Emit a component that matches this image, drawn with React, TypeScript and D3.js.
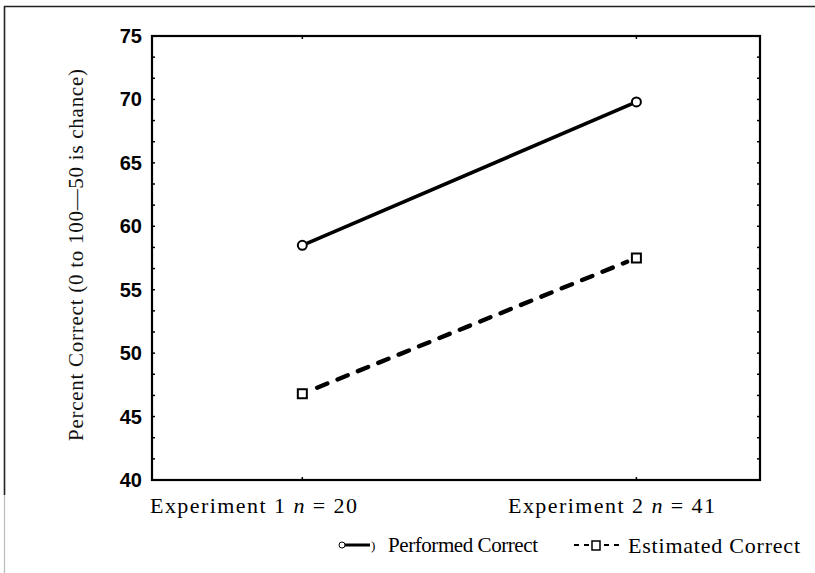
import React from "react";
import * as d3 from "d3";

const categories = ["Experiment 1", "Experiment 2"];
const categoryN = ["20", "41"];
const performed = [58.5, 69.8];
const estimated = [46.8, 57.5];
const yTicks = [40, 45, 50, 55, 60, 65, 70, 75];
const seriesNames = ["Performed Correct", "Estimated Correct"];
const yTitle = "Percent Correct (0 to 100\u201450 is chance)";

const W = 815;
const H = 573;
const M = { left: 152, right: 760, top: 36, bottom: 480 };

export default function App() {
  const x = d3.scaleLinear().domain([-0.45, 1.37]).range([M.left, M.right]);
  const y = d3.scaleLinear().domain([40, 75]).range([M.bottom, M.top]);

  const minor = d3.range(0, 22).map((i) => 40 + (i * 5) / 3);
  const serif = "'Liberation Serif', 'Times New Roman', serif";
  const sans = "'Liberation Sans Narrow', 'Liberation Sans', Arial, sans-serif";

  // segment between the two points, shortened so it doesn't overlap markers
  const seg = (vals: number[], pad0: number, pad1: number) => {
    const x0 = x(0), y0 = y(vals[0]), x1 = x(1), y1 = y(vals[1]);
    const len = Math.hypot(x1 - x0, y1 - y0);
    const ux = (x1 - x0) / len, uy = (y1 - y0) / len;
    return `M${x0 + ux * pad0},${y0 + uy * pad0}L${x1 - ux * pad1},${y1 - uy * pad1}`;
  };

  return (
    <svg
      width={W}
      height={H}
      style={{ position: "absolute", left: 0, top: 0, background: "#fff" }}
    >
      {/* outer frame */}
      <line x1={4} x2={W} y1={6.5} y2={6.5} stroke="#222" strokeWidth={1.6} />
      <line x1={4.5} x2={4.5} y1={6} y2={495} stroke="#222" strokeWidth={1.6} />
      <line x1={4.5} x2={4.5} y1={495} y2={H} stroke="#bbb" strokeWidth={1.2} />

      {/* plot box */}
      <rect
        x={M.left}
        y={M.top}
        width={M.right - M.left}
        height={M.bottom - M.top}
        fill="none"
        stroke="#000"
        strokeWidth={2.2}
      />
      {minor.map((v, i) => (
        <g key={i}>
          <line x1={M.left} x2={M.left + 3} y1={y(v)} y2={y(v)} stroke="#000" strokeWidth={1.5} />
          <line x1={M.right} x2={M.right - 3} y1={y(v)} y2={y(v)} stroke="#000" strokeWidth={1.5} />
        </g>
      ))}
      {categories.map((c, i) => (
        <g key={c}>
          <line x1={x(i)} x2={x(i)} y1={M.bottom} y2={M.bottom - 3} stroke="#000" strokeWidth={1.5} />
          <line x1={x(i)} x2={x(i)} y1={M.top} y2={M.top + 3} stroke="#000" strokeWidth={1.5} />
        </g>
      ))}

      {/* y tick labels */}
      {yTicks.map((t) => (
        <text
          key={t}
          x={142}
          y={y(t)}
          textAnchor="end"
          dominantBaseline="central"
          fontFamily={sans}
          fontWeight="bold"
          fontSize={20}
          fill="#000"
        >
          {t}
        </text>
      ))}

      {/* y title */}
      <text
        transform={`translate(76,${255}) rotate(-90)`}
        textAnchor="middle"
        dominantBaseline="central"
        fontFamily={serif}
        fontSize={21}
        textLength={372}
        lengthAdjust="spacing"
        fill="#111"
      >
        {yTitle}
      </text>

      {/* x labels */}
      {categories.map((c, i) => (
        <text
          key={c}
          x={i === 0 ? 150 : 508}
          y={505}
          dominantBaseline="central"
          fontFamily={serif}
          fontSize={22}
          textLength={207}
          lengthAdjust="spacing"
          fill="#000"
        >
          {c + " "}
          <tspan fontStyle="italic">n</tspan>
          {" = " + categoryN[i]}
        </text>
      ))}

      {/* series */}
      <path d={seg(performed, 5, 5)} fill="none" stroke="#000" strokeWidth={3.6} />
      <path
        d={seg(estimated, 16, 10)}
        fill="none"
        stroke="#000"
        strokeWidth={4.4}
        strokeDasharray="11 11"
        strokeLinecap="round"
      />
      {performed.map((v, i) => (
        <circle key={i} cx={x(i)} cy={y(v)} r={4.5} fill="#fff" stroke="#000" strokeWidth={2} />
      ))}
      {estimated.map((v, i) => (
        <rect
          key={i}
          x={x(i) - 4.5}
          y={y(v) - 4.5}
          width={9}
          height={9}
          fill="#fff"
          stroke="#000"
          strokeWidth={2}
        />
      ))}

      {/* legend */}
      <g>
        <circle cx={342} cy={545} r={3} fill="#fff" stroke="#000" strokeWidth={1} />
        <line x1={345} x2={370} y1={545} y2={545} stroke="#000" strokeWidth={3} />
        <text x={371} y={545} dominantBaseline="central" fontFamily={serif} fontSize={13} fill="#000">
          )
        </text>
        <text
          x={388}
          y={545}
          dominantBaseline="central"
          fontFamily={serif}
          fontSize={21}
          textLength={150}
          lengthAdjust="spacing"
          fill="#000"
        >
          {seriesNames[0]}
        </text>
        <line x1={574} x2={621} y1={545} y2={545} stroke="#000" strokeWidth={2} strokeDasharray="5 5" />
        <rect x={592} y={541} width={8} height={9} fill="#fff" stroke="#000" strokeWidth={1.5} />
        <text
          x={628}
          y={545}
          dominantBaseline="central"
          fontFamily={serif}
          fontSize={22}
          textLength={172}
          lengthAdjust="spacing"
          fill="#000"
        >
          {seriesNames[1]}
        </text>
      </g>
    </svg>
  );
}
